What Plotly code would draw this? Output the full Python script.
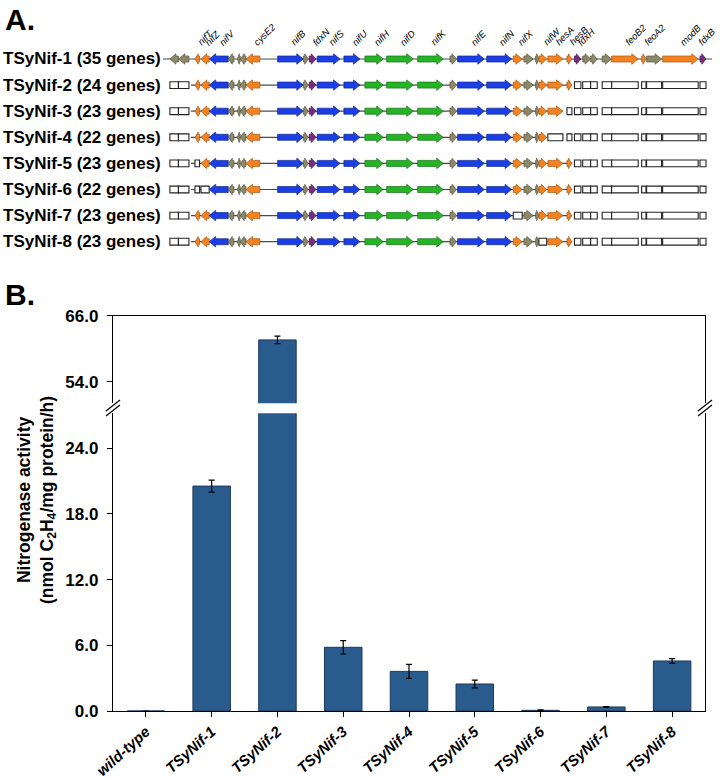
import plotly.graph_objects as go

W, H = 720, 778
FONT = "Liberation Sans, Arial, Helvetica, sans-serif"

# ---------------- Panel A data (gene map, positions in kb) ----------------
gene_names = ["g1", "g2", "nifT", "nifZ", "nifV", "g3", "g4", "g5", "cysE2",
              "nifB", "g6", "fdxN", "nifS", "nifU", "nifH", "nifD", "nifK",
              "g7", "nifE", "nifN", "nifX", "g8", "g9", "nifW", "hesA", "hesB",
              "fdxH", "g10", "g11", "g12", "feoB2", "feoA2", "g13", "modB", "fdxB"]
gene_start = [0.33, 0.90, 2.00, 2.40, 2.95, 4.22, 4.82, 5.02, 5.40,
              7.51, 9.22, 9.62, 10.15, 11.93, 13.33, 14.78, 16.85,
              19.00, 19.51, 21.45, 23.22, 23.93, 24.71, 24.93, 25.53, 26.80,
              27.30, 27.85, 28.38, 29.15, 29.78, 31.78, 32.11, 33.18, 35.67]
gene_end = [0.90, 1.60, 2.31, 2.95, 4.22, 4.60, 5.02, 5.40, 6.33,
            9.22, 9.55, 10.07, 11.67, 13.00, 14.55, 16.55, 18.55,
            19.45, 21.29, 23.11, 23.82, 24.55, 24.93, 25.45, 26.53, 27.13,
            27.73, 28.38, 28.82, 29.78, 31.55, 32.07, 33.11, 35.55, 36.07]
gene_kind = ["gray", "gray", "orange", "orange", "blue", "gray", "gray", "gray", "orange",
             "blue", "gray", "purple", "blue", "blue", "green", "green", "green",
             "gray", "blue", "blue", "orange", "gray", "gray", "orange", "orange", "orange",
             "purple", "gray", "gray", "gray", "orange", "orange", "gray", "orange", "purple"]
gene_dir = ["L"] * 9 + ["R"] * 26

constructs = ["TSyNif-1 (35 genes)", "TSyNif-2 (24 genes)", "TSyNif-3 (23 genes)",
              "TSyNif-4 (22 genes)", "TSyNif-5 (23 genes)", "TSyNif-6 (22 genes)",
              "TSyNif-7 (23 genes)", "TSyNif-8 (23 genes)"]
tail_removed = ["fdxH", "g10", "g11", "g12", "feoB2", "feoA2", "g13", "modB", "fdxB"]
missing = [
    [],
    ["g1", "g2"] + tail_removed,
    ["g1", "g2", "hesB"] + tail_removed,
    ["g1", "g2", "hesA", "hesB"] + tail_removed,
    ["g1", "g2", "nifT"] + tail_removed,
    ["g1", "g2", "nifT", "nifZ"] + tail_removed,
    ["g1", "g2", "nifX"] + tail_removed,
    ["g1", "g2", "nifW"] + tail_removed,
]
backbone_start = [-0.13, 1.73, 1.73, 1.73, 1.73, 1.73, 1.73, 1.73]
backbone_end = [36.47, 27.13, 26.53, 25.45, 27.13, 27.13, 27.13, 27.13]

kind_fill = {"gray": "#8c8868", "orange": "#f5821f", "blue": "#1b3ee6",
             "green": "#25b425", "purple": "#7a2a80"}
kind_edge = {"gray": "#5a5742", "orange": "#a65812", "blue": "#102a8c",
             "green": "#167016", "purple": "#4a164e"}

# ---------------- Panel B data ----------------
categories = ["wild-type", "TSyNif-1", "TSyNif-2", "TSyNif-3", "TSyNif-4",
              "TSyNif-5", "TSyNif-6", "TSyNif-7", "TSyNif-8"]
activity = [0.0, 20.55, 61.6, 5.82, 3.62, 2.47, 0.06, 0.37, 4.57]
activity_err = [0.0, 0.55, 0.7, 0.61, 0.64, 0.35, 0.05, 0.03, 0.21]
lower_ticks = [0, 6, 12, 18, 24]
upper_ticks = [54, 66]
lower_range = [0, 27.2]
upper_range = [50.07, 66]


def px_x(p):
    return p / W


def px_y(p):
    return 1 - p / H


fig = go.Figure()
shapes = []
annotations = []

# ---------- Panel A ----------
HEAD = 0.43      # kb
BODY_H = 0.115   # row units
HEAD_H = 0.2
BOX_H = 0.13

for r, name in enumerate(constructs):
    shapes.append(dict(type="line", xref="x3", yref="y3",
                       x0=backbone_start[r], x1=backbone_end[r], y0=r, y1=r,
                       line=dict(color="#4a4a4a", width=1.2), layer="above"))
    for j, g in enumerate(gene_names):
        s, e = gene_start[j], gene_end[j]
        if g in missing[r]:
            shapes.append(dict(type="rect", xref="x3", yref="y3",
                               x0=s, x1=e, y0=r - BOX_H, y1=r + BOX_H,
                               fillcolor="white",
                               line=dict(color="#222222", width=1.1), layer="above"))
            continue
        L = e - s
        hl = min(HEAD, 0.7 * L)
        if gene_dir[j] == "R":
            pts = [(s, r - BODY_H), (e - hl, r - BODY_H), (e - hl, r - HEAD_H), (e, r),
                   (e - hl, r + HEAD_H), (e - hl, r + BODY_H), (s, r + BODY_H)]
        else:
            pts = [(e, r - BODY_H), (s + hl, r - BODY_H), (s + hl, r - HEAD_H), (s, r),
                   (s + hl, r + HEAD_H), (s + hl, r + BODY_H), (e, r + BODY_H)]
        path = "M " + " L ".join(f"{x:.4f},{y:.4f}" for x, y in pts) + " Z"
        k = gene_kind[j]
        shapes.append(dict(type="path", xref="x3", yref="y3", path=path,
                           fillcolor=kind_fill[k],
                           line=dict(color=kind_edge[k], width=0.7), layer="above"))
    annotations.append(dict(xref="paper", yref="y3", x=px_x(163), y=r,
                            text=name, showarrow=False, xanchor="right", yanchor="middle",
                            font=dict(family=FONT, size=17, color="black", weight="bold")))

# gene labels (above first construct)
for j, g in enumerate(gene_names):
    if g.startswith("g"):
        continue
    cx = (gene_start[j] + gene_end[j]) / 2
    shift = -10 if j == len(gene_names) - 1 else -5
    annotations.append(dict(xref="x3", yref="y3", x=cx, y=-0.33, text=g,
                            showarrow=False, textangle=-45, xanchor="left",
                            yanchor="bottom", xshift=shift,
                            font=dict(family=FONT, size=9.5, color="black", style="italic")))

fig.add_trace(go.Scatter(x=[(a + b) / 2 for a, b in zip(gene_start, gene_end)],
                         y=[0] * len(gene_names), mode="markers",
                         marker=dict(opacity=0), xaxis="x3", yaxis="y3",
                         hoverinfo="skip", showlegend=False))

# ---------- Panel B ----------
bar_kw = dict(x=categories, y=activity,
              marker=dict(color="#2a5b8d", line=dict(color="#1c3a5c", width=1)),
              error_y=dict(type="data", array=activity_err, color="black",
                           thickness=1.2, width=3),
              showlegend=False, width=0.57)
fig.add_trace(go.Bar(xaxis="x", yaxis="y", **bar_kw))
fig.add_trace(go.Bar(xaxis="x2", yaxis="y2", **bar_kw))

# break marks
for xp in (113, 705):
    for d in (-2.5, 2.5):
        shapes.append(dict(type="line", xref="paper", yref="paper",
                           x0=px_x(xp - 7), x1=px_x(xp + 7),
                           y0=px_y(408 + 5.5 + d), y1=px_y(408 - 5.5 + d),
                           line=dict(color="black", width=1.2)))

annotations.append(dict(xref="paper", yref="paper", x=px_x(3), y=px_y(1),
                        text="A.", showarrow=False, xanchor="left", yanchor="top",
                        font=dict(family=FONT, size=30, color="black", weight="bold")))
annotations.append(dict(xref="paper", yref="paper", x=px_x(3), y=px_y(276),
                        text="B.", showarrow=False, xanchor="left", yanchor="top",
                        font=dict(family=FONT, size=30, color="black", weight="bold")))
annotations.append(dict(xref="paper", yref="paper", x=px_x(36), y=px_y(500),
                        text="Nitrogenase activity<br>(nmol C<sub>2</sub>H<sub>4</sub>/mg protein/h)",
                        showarrow=False, textangle=-90, xanchor="center", yanchor="middle",
                        font=dict(family=FONT, size=17.5, color="black", weight="bold")))

tickfont = dict(family=FONT, size=17, color="black", weight="bold")
xdom = [px_x(113), px_x(705)]

fig.update_layout(
    template="none",
    width=W, height=H, margin=dict(l=0, r=0, t=0, b=0, autoexpand=False),
    paper_bgcolor="white", plot_bgcolor="white",
    bargap=0.43, showlegend=False,
    shapes=shapes, annotations=annotations,
    xaxis=dict(domain=xdom, anchor="y", type="category", showline=True,
               linecolor="black", linewidth=1.3, ticks="outside", ticklen=5,
               tickcolor="black", tickangle=-42, showgrid=False, automargin=False,
               tickfont=dict(family=FONT, size=15, color="black",
                             weight="bold", style="italic")),
    xaxis2=dict(domain=xdom, anchor="y2", matches="x", type="category",
                side="top", showline=True, linecolor="black", linewidth=1.3,
                ticks="", showticklabels=False, showgrid=False, automargin=False),
    yaxis=dict(domain=[px_y(711), px_y(413.3)], anchor="x", range=lower_range,
               tickvals=lower_ticks, tickformat=".1f", showline=True, mirror=True,
               linecolor="black", linewidth=1.3, ticks="outside", ticklen=5,
               tickcolor="black", showgrid=False, zeroline=False, tickfont=tickfont,
               ticklabelstandoff=5, automargin=False),
    yaxis2=dict(domain=[px_y(403.3), px_y(315.7)], anchor="x2", range=upper_range,
                tickvals=upper_ticks, tickformat=".1f", showline=True, mirror=True,
                linecolor="black", linewidth=1.3, ticks="outside", ticklen=5,
                tickcolor="black", showgrid=False, zeroline=False, tickfont=tickfont,
                ticklabelstandoff=5, automargin=False),
    xaxis3=dict(domain=[px_x(163), px_x(712)], anchor="y3", range=[-0.13, 36.47],
                visible=False, automargin=False),
    yaxis3=dict(domain=[px_y(260), px_y(40)], anchor="x3", range=[7.701, -0.728],
                visible=False, automargin=False),
)

fig.write_html("out.html", config={"displayModeBar": False},
               post_script="document.body.style.margin='0';document.body.style.overflow='hidden';")
